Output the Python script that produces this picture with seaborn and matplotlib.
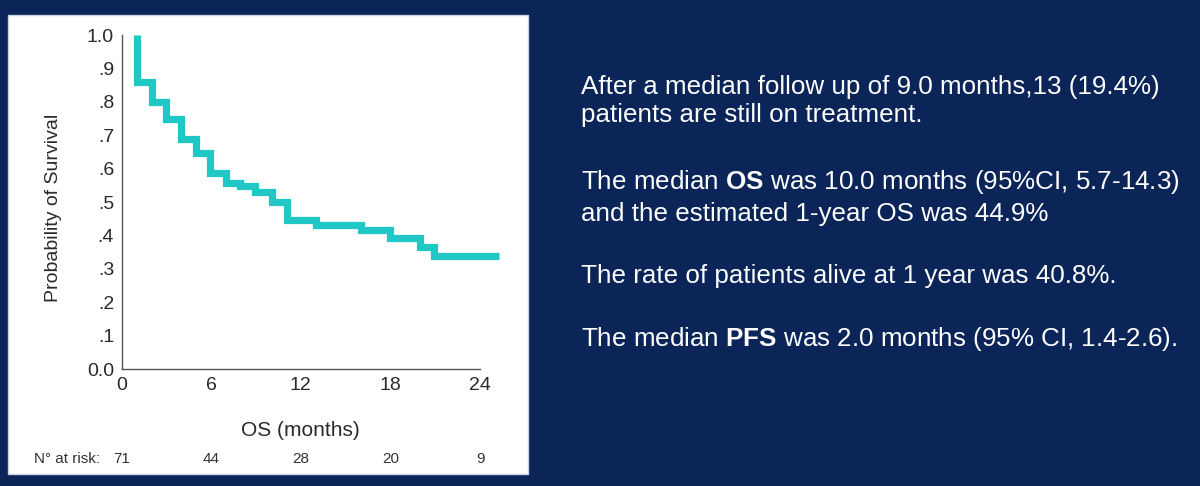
"""Kaplan-Meier OS curve with the summary text panel, slide style."""

import matplotlib.pyplot as plt
import matplotlib.transforms as mtransforms
import pandas as pd
import seaborn as sns
from matplotlib.patches import Rectangle

# step curve (month of each drop, survival after it)
event_months = [1.0, 1.0, 2.0, 3.0, 4.0, 4.95, 5.9, 7.0, 7.95, 8.9, 10.05, 11.05,
                13.0, 16.0, 18.0, 20.0, 20.9, 25.3]
survival = [1.0, 0.860, 0.800, 0.748, 0.688, 0.648, 0.588, 0.558, 0.547, 0.529,
            0.499, 0.446, 0.431, 0.416, 0.393, 0.366, 0.337, 0.337]

x_ticks = [0, 6, 12, 18, 24]
y_ticks = [0.0, 0.1, 0.2, 0.3, 0.4, 0.5, 0.6, 0.7, 0.8, 0.9, 1.0]
y_tick_labels = ["0.0", ".1", ".2", ".3", ".4", ".5", ".6", ".7", ".8", ".9", "1.0"]

risk_months = [0, 6, 12, 18, 24]
risk_counts = [71, 44, 28, 20, 9]

summary_lines = [
    "After a median follow up of 9.0 months,13 (19.4%)",
    "patients are still on treatment.",
    r"The median $\mathbf{OS}$ was 10.0 months (95%CI, 5.7-14.3)",
    "and the estimated 1-year OS was 44.9%",
    "The rate of patients alive at 1 year was 40.8%.",
    r"The median $\mathbf{PFS}$ was 2.0 months (95% CI, 1.4-2.6).",
]
summary_y = [0.8066, 0.749, 0.6111, 0.5453, 0.4177, 0.2881]

navy = "#0b2558"
teal = "#1fc7c5"
ink = "#2a2a2a"

sns.set_theme(style="white")
plt.rcParams["font.family"] = ["Liberation Sans", "DejaVu Sans"]
plt.rcParams["mathtext.fontset"] = "custom"
plt.rcParams["mathtext.rm"] = "Liberation Sans"
plt.rcParams["mathtext.bf"] = "Liberation Sans:bold"

fig = plt.figure(figsize=(12, 4.86), dpi=100, facecolor=navy)

# white chart card on the left
card = Rectangle((8 / 1200, 0.0247), 520 / 1200, 0.9444, transform=fig.transFigure,
                 facecolor="white", edgecolor="#c9d3e0", lw=1, zorder=-1)
fig.patches.append(card)

ax = fig.add_axes([0.1014, 0.2407, 0.3235, 0.6872])
ax.set_zorder(1)
ax.set_facecolor("none")

df = pd.DataFrame({"month": event_months, "survival": survival})
sns.lineplot(data=df, x="month", y="survival", estimator=None, sort=False,
             drawstyle="steps-post", color=teal, lw=5.2, ax=ax,
             solid_capstyle="butt", solid_joinstyle="miter", clip_on=False)

ax.set_xlim(0, 26)
ax.set_ylim(0, 1.0)
ax.set_xticks(x_ticks)
ax.set_xticklabels([str(t) for t in x_ticks])
ax.set_yticks(y_ticks)
ax.set_yticklabels(y_tick_labels)

for side in ["top", "right"]:
    ax.spines[side].set_visible(False)
ax.spines["left"].set_bounds(0, 1)
ax.spines["bottom"].set_bounds(0, 24)
for side in ["left", "bottom"]:
    ax.spines[side].set_color("#555555")
    ax.spines[side].set_linewidth(1)

ax.tick_params(axis="both", direction="out", length=2.5, width=2.2, color="black",
               labelcolor=ink, labelsize=14)
ax.tick_params(axis="y", pad=3)
ax.tick_params(axis="x", pad=3)

ax.set_xlabel("OS (months)", fontsize=15, color=ink)
ax.xaxis.set_label_coords(12 / 26, -0.155)
ax.set_ylabel("Probability of Survival", fontsize=14, color=ink)
ax.yaxis.label.set_verticalalignment("center")
ax.yaxis.set_label_coords(-0.175, 0.482)

# numbers at risk under the axis
risk_tr = mtransforms.blended_transform_factory(ax.transData, fig.transFigure)
for m, n in zip(risk_months, risk_counts):
    ax.text(m, 0.0556, str(n), transform=risk_tr, ha="center", va="center",
            fontsize=11, color="#333333")
fig.text(100 / 1200, 0.0556, "N° at risk:", ha="right", va="center",
         fontsize=11, color="#333333")

for line, y in zip(summary_lines, summary_y):
    fig.text(581 / 1200, y, line, ha="left", va="baseline", fontsize=18.7, color="white")

fig.savefig("out.png", dpi=100, facecolor=navy)
